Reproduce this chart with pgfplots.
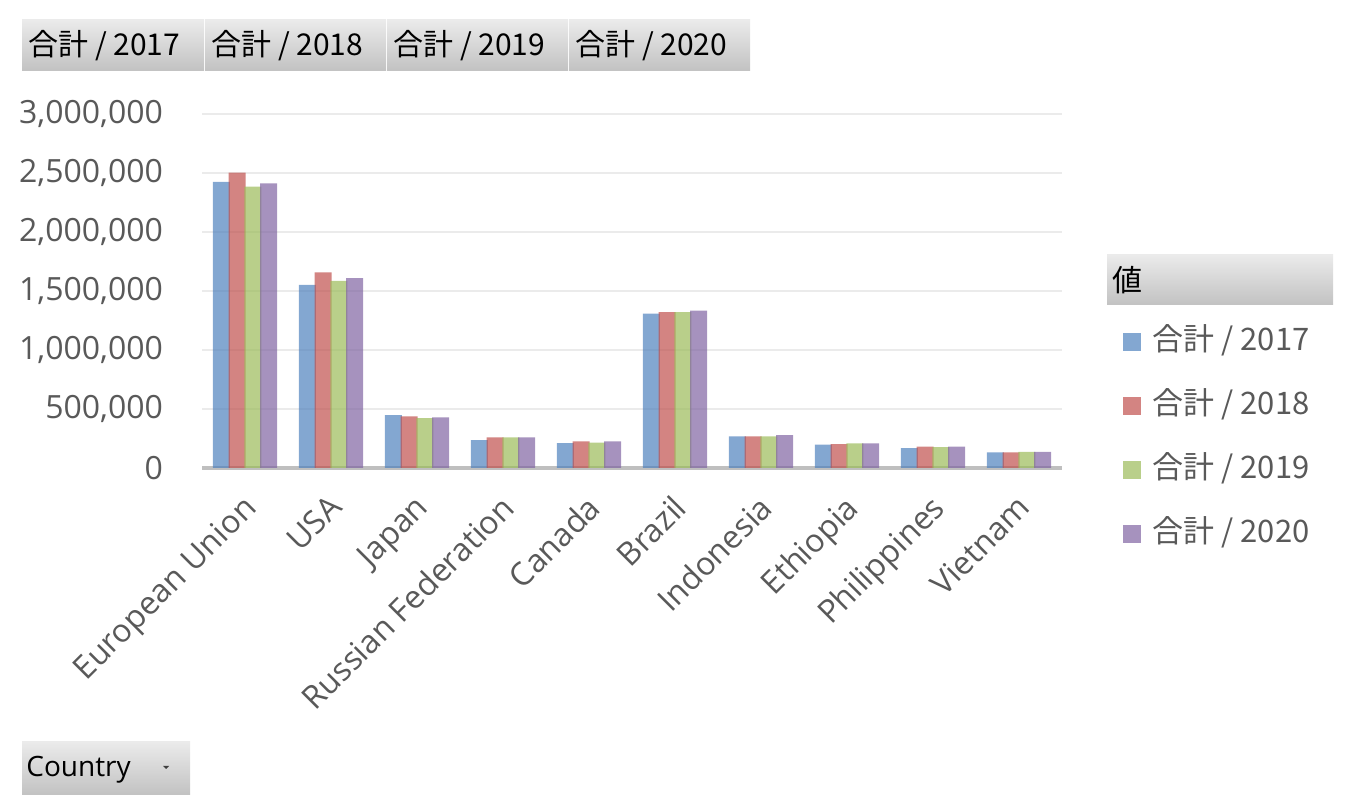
\documentclass[border=0pt]{standalone}
\usepackage{pgfplots}
\pgfplotsset{compat=1.18}
\usepackage{fontspec}
\setmainfont{Open Sans}
\newfontfamily\cjk{Noto Sans CJK JP}
\definecolor{c1}{HTML}{4F81BD}
\definecolor{c2}{HTML}{C0504D}
\definecolor{c3}{HTML}{9BBB59}
\definecolor{c4}{HTML}{8064A2}
\definecolor{txt}{HTML}{595959}
\definecolor{gridc}{HTML}{EBEBEB}
\definecolor{axc}{HTML}{BFBFBF}
\pgfplotsset{sq legend/.style={legend image code/.code={\fill[##1] (0pt,-4.5pt) rectangle (9pt,4.5pt);}}}
\tikzset{btn/.style={top color=black!8, bottom color=black!24, draw=none}}
\begin{document}
\begin{tikzpicture}
\useasboundingbox (0,0) rectangle (676pt,406pt);
% field buttons at top
\foreach \xa/\xb/\yr in {11/102/2017,102.5/193/2018,193.5/284/2019,284.5/375/2020}{
  \shade[btn] (\xa pt,370.5pt) rectangle (\xb pt,396pt);
  \node[anchor=west, inner sep=0pt, font=\cjk\fontsize{15}{17}\selectfont] at (\xa pt+3pt,383pt) {合計 / \yr};
}
% legend title button
\shade[btn] (553.5pt,253.5pt) rectangle (666.5pt,278.5pt);
\node[anchor=west, inner sep=0pt, font=\cjk\fontsize{15}{17}\selectfont] at (556pt,266pt) {値};
% Country button
\shade[btn] (11pt,8.5pt) rectangle (95pt,35pt);
\node[anchor=west, inner sep=0pt, font=\fontsize{14}{17}\selectfont] at (13pt,21pt) {Country};
\fill[black!75] (81.5pt,23pt) -- (84.5pt,23pt) -- (83pt,21.5pt) -- cycle;
\begin{axis}[
  at={(101pt,172pt)}, anchor=south west, scale only axis,
  width=430pt, height=177pt,
  xmin=-0.5, xmax=9.5, ymin=0, ymax=3000000,
  ybar, bar width=8.5pt,
  xtick={0,...,9},
  xticklabels={European Union, USA, Japan, Russian Federation, Canada, Brazil, Indonesia, Ethiopia, Philippines, Vietnam},
  ytick={0,500000,1000000,1500000,2000000,2500000,3000000},
  scaled y ticks=false,
  yticklabel={\pgfmathprintnumber[assume math mode=true, fixed, 1000 sep={,}]{\tick}},
  major tick length=0pt,
  separate axis lines,
  axis x line*=bottom, axis y line*=left,
  x axis line style={axc, line width=2pt},
  y axis line style={draw=none},
  ymajorgrids, grid style={gridc, line width=0.9pt},
  tick label style={font=\fontsize{16}{19}\selectfont, text=txt},
  yticklabel style={anchor=east, xshift=-16pt},
  xticklabel style={rotate=45, anchor=north east, xshift=-6.7pt, yshift=-4.1pt},
  legend style={at={(1.063,0.407)}, anchor=north west, draw=none, fill=none,
    font=\cjk\fontsize{15.5}{18}\selectfont, text=txt, row sep=18pt, column sep=6pt,
    nodes={inner sep=0pt, text height=11pt, text depth=3pt}},
  legend cell align=left,
]
\addplot[sq legend, draw=none, fill=c1, fill opacity=0.7, bar shift=-11.8pt] coordinates {(0,2424000) (1,1552000) (2,448000) (3,236000) (4,211000) (5,1309000) (6,267000) (7,197000) (8,168000) (9,132000)};
\addplot[sq legend, draw=none, fill=c2, fill opacity=0.7, bar shift=-3.93pt] coordinates {(0,2503000) (1,1657000) (2,437000) (3,259000) (4,225000) (5,1320000) (6,267000) (7,202000) (8,182000) (9,132000)};
\addplot[sq legend, draw=none, fill=c3, fill opacity=0.7, bar shift=3.93pt] coordinates {(0,2384000) (1,1586000) (2,423000) (3,259000) (4,216000) (5,1320000) (6,267000) (7,208000) (8,177000) (9,137000)};
\addplot[sq legend, draw=none, fill=c4, fill opacity=0.7, bar shift=11.8pt] coordinates {(0,2413000) (1,1609000) (2,429000) (3,259000) (4,225000) (5,1334000) (6,278000) (7,208000) (8,182000) (9,137000)};
\legend{合計 / 2017, 合計 / 2018, 合計 / 2019, 合計 / 2020}
\end{axis}
\end{tikzpicture}
\end{document}
